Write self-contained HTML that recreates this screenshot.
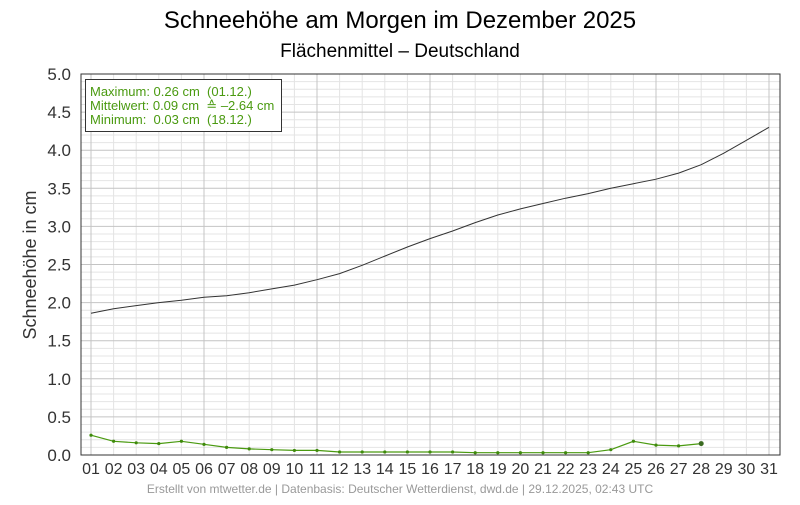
<!DOCTYPE html>
<html><head><meta charset="utf-8"><style>
body{margin:0;background:#fff;}
svg text{font-family:"Liberation Sans",sans-serif;}
</style></head><body>
<svg id="s" width="800" height="500" xmlns="http://www.w3.org/2000/svg">
<rect width="800" height="500" fill="#fff"/>
<text x="400" y="28" font-size="24" text-anchor="middle" fill="#000">Schneehöhe am Morgen im Dezember 2025</text>
<text x="400" y="57" font-size="19" text-anchor="middle" fill="#000">Flächenmittel – Deutschland</text>
<text transform="translate(36,265) rotate(-90)" font-size="18" text-anchor="middle" fill="#333">Schneehöhe in cm</text>
<text x="400" y="493" font-size="12" text-anchor="middle" fill="#999">Erstellt von mtwetter.de | Datenbasis: Deutscher Wetterdienst, dwd.de | 29.12.2025, 02:43 UTC</text>
<g id="g"></g>
</svg>
<script>
var g=document.getElementById('g'),h='';
var L=81,R=780,T=74,B=455;
function X(d){return 91+(d-1)*22.6;}
function Y(v){return B-v*76.2;}
for(var i=1;i<50;i++){if(i%5==0)continue;var y=Y(i/10);h+='<line x1="'+L+'" x2="'+R+'" y1="'+y+'" y2="'+y+'" stroke="#e4e4e4"/>';}
for(var d=1;d<=31;d++){if((d-1)%5==0)continue;h+='<line x1="'+X(d)+'" x2="'+X(d)+'" y1="'+T+'" y2="'+B+'" stroke="#e4e4e4"/>';}
for(var i=1;i<10;i++){var y=Y(i/2);h+='<line x1="'+L+'" x2="'+R+'" y1="'+y+'" y2="'+y+'" stroke="#c4c4c4"/>';}
for(var d=1;d<=31;d+=5){h+='<line x1="'+X(d)+'" x2="'+X(d)+'" y1="'+T+'" y2="'+B+'" stroke="#c4c4c4"/>';}
for(var i=0;i<=10;i++){var v=i/2;h+='<text x="71" y="'+(Y(v)+6)+'" font-size="17" text-anchor="end" fill="#333">'+v.toFixed(1)+'</text>';}
for(var d=1;d<=31;d++){h+='<text x="'+X(d)+'" y="474" font-size="16" text-anchor="middle" fill="#333">'+(d<10?'0':'')+d+'</text>';}
var b=[1.86,1.92,1.96,2.00,2.03,2.07,2.09,2.13,2.18,2.23,2.30,2.38,2.49,2.61,2.73,2.84,2.94,3.05,3.15,3.23,3.30,3.37,3.43,3.50,3.56,3.62,3.70,3.81,3.96,4.13,4.30];
var gr=[0.26,0.18,0.16,0.15,0.18,0.14,0.10,0.08,0.07,0.06,0.06,0.04,0.04,0.04,0.04,0.04,0.04,0.03,0.03,0.03,0.03,0.03,0.03,0.07,0.18,0.13,0.12,0.15];
var p='';b.forEach(function(v,i){p+=(i?'L':'M')+X(i+1).toFixed(1)+','+Y(v).toFixed(1);});
h+='<path d="'+p+'" fill="none" stroke="#333" stroke-width="1"/>';
p='';gr.forEach(function(v,i){p+=(i?'L':'M')+X(i+1).toFixed(1)+','+Y(v).toFixed(1);});
h+='<path d="'+p+'" fill="none" stroke="#4a9a10" stroke-width="1.2"/>';
gr.forEach(function(v,i){h+='<circle cx="'+X(i+1)+'" cy="'+Y(v)+'" r="'+(i==27?2.5:1.6)+'" fill="'+(i==27?'#3a6a20':'#3f8a0c')+'"/>';});
h+='<rect x="'+L+'" y="'+T+'" width="'+(R-L)+'" height="'+(B-T)+'" fill="none" stroke="#333"/>';
h+='<rect x="85.5" y="79.5" width="196" height="52" fill="#fff" stroke="#333"/>';
var lg=['Maximum: 0.26 cm  (01.12.)','Mittelwert: 0.09 cm  ≙ –2.64 cm','Minimum:  0.03 cm  (18.12.)'];
lg.forEach(function(t,i){h+='<text x="90" y="'+(96+i*14)+'" font-size="13" fill="#4a9a10" xml:space="preserve">'+t+'</text>';});
g.innerHTML=h;
</script>
</body></html>
